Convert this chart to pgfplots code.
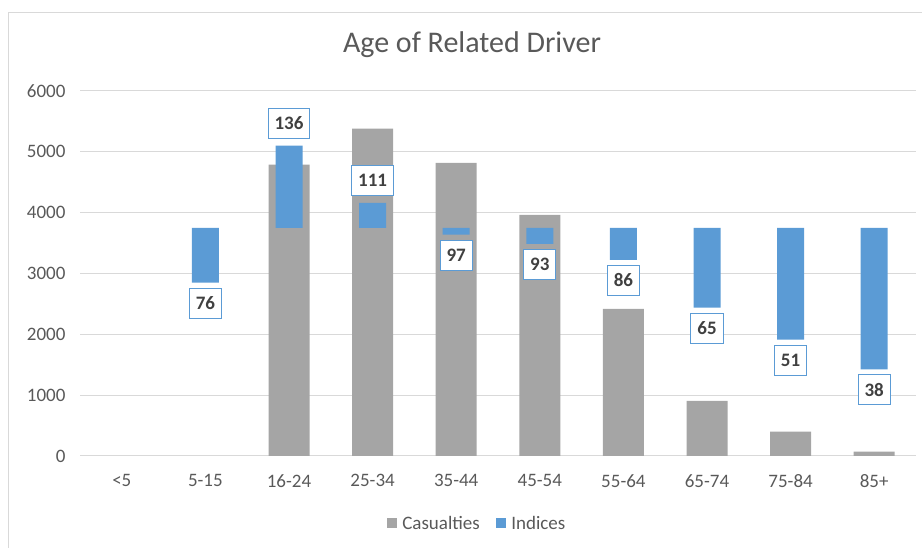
\documentclass[border=0pt]{standalone}
\usepackage{pgfplots}
\pgfplotsset{compat=1.18}
\usepackage{pgfplotstable}
\usepackage{fontspec}
\setmainfont{Carlito}
\definecolor{cgray}{HTML}{A5A5A5}
\definecolor{cblue}{HTML}{5B9BD5}
\definecolor{cgrid}{HTML}{D9D9D9}
\definecolor{ctext}{HTML}{595959}
\definecolor{clab}{HTML}{404040}

\pgfplotstableread{
x cas
2 4790
3 5380
4 4820
5 3965
6 2420
7 905
8 400
9 70
}\casualties

\pgfplotstableread{
x idx base h
1 76 2850 900
2 136 3750 1350
3 111 3750 412.5
4 97 3637.5 112.5
5 93 3487.5 262.5
6 86 3225 525
7 65 2437.5 1312.5
8 51 1912.5 1837.5
9 38 1425 2325
}\indices

\pgfplotstableread{
x idx y
2 136 5100
3 111 4162.5
}\lababove

\pgfplotstableread{
x idx y
1 76 2850
4 97 3637.5
5 93 3487.5
6 86 3225
7 65 2437.5
8 51 1912.5
9 38 1425
}\labbelow

\tikzset{
  lab/.style={
    draw=cblue, fill=white, line width=1pt, text=clab,
    font=\bfseries\fontsize{19}{22}\selectfont,
    inner xsep=6.5pt, inner ysep=0pt, minimum height=30pt,
  },
}
\pgfplotsset{
  base/.style={
    scale only axis, width=836pt, height=365pt,
    at={(80pt,92pt)}, anchor=south west,
    xmin=-0.5, xmax=9.5, ymin=0, ymax=6000,
  },
}

\begin{document}
\begin{tikzpicture}[x=1pt,y=1pt]
\useasboundingbox (0,0) rectangle (922,548);
\draw[cgrid, line width=1pt] (8.5,0) -- (8.5,535.5) -- (922,535.5);
\node[font=\fontsize{30}{36}\selectfont, text=ctext] at (472,503) {Age of Related Driver};

\begin{axis}[base,
  ybar, bar width=41pt, bar shift=0pt,
  axis line style={draw=none},
  major tick length=0pt,
  ymajorgrids, grid style={cgrid, line width=1pt},
  ytick={0,1000,...,6000},
  xtick={0,...,9},
  xticklabels={<5,5-15,16-24,25-34,35-44,45-54,55-64,65-74,75-84,85+},
  tick label style={font=\fontsize{19}{22}\selectfont, text=ctext},
  yticklabel style={xshift=-11pt},
  xticklabel style={yshift=-15pt},
  /pgf/number format/assume math mode=true,
  /pgf/number format/1000 sep={},
  legend columns=2,
  legend style={at={(0.475,-0.184)}, anchor=center, draw=none, fill=none,
    font=\fontsize{19}{22}\selectfont, text=ctext},
]
\addplot[draw=none, fill=cgray, forget plot, bar shift=0pt] table[x=x, y=cas] {\casualties};
\addlegendimage{legend image code/.code={\fill[cgray] (0pt,-4.5pt) rectangle (9pt,4.5pt); \path (13pt,0pt);}}
\addlegendentry{Casualties}
\addlegendimage{legend image code/.code={\path (-14pt,0pt); \fill[cblue] (0pt,-4.5pt) rectangle (9pt,4.5pt); \path (13pt,0pt);}}
\addlegendentry{Indices}
\end{axis}

\begin{axis}[base, hide axis, ybar stacked, bar width=27pt]
\addplot[draw=none, fill=none] table[x=x, y=base] {\indices};
\addplot[draw=none, fill=cblue] table[x=x, y=h] {\indices};
\end{axis}

\begin{axis}[base, hide axis]
\addplot[only marks, mark=none, nodes near coords, point meta=explicit symbolic,
  nodes near coords style={/tikz/lab, anchor=south, yshift=7pt}]
  table[x=x, y=y, meta=idx] {\lababove};
\addplot[only marks, mark=none, nodes near coords, point meta=explicit symbolic,
  nodes near coords style={/tikz/lab, anchor=north, yshift=-5pt}]
  table[x=x, y=y, meta=idx] {\labbelow};
\end{axis}
\end{tikzpicture}
\end{document}
